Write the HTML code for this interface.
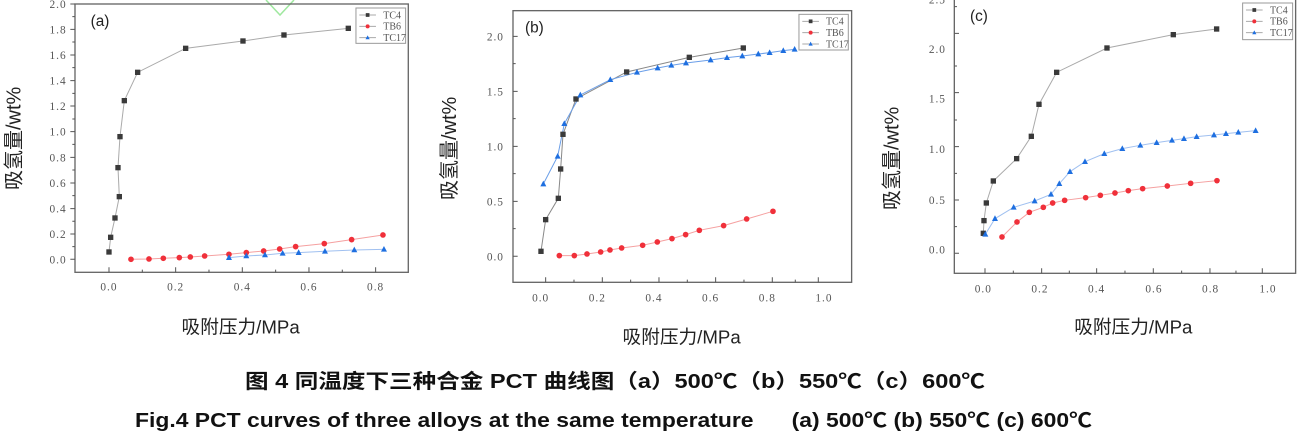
<!DOCTYPE html>
<html><head><meta charset="utf-8"><style>
html,body{margin:0;padding:0;background:#fff;width:1301px;height:444px;overflow:hidden}
.t{font-family:"Liberation Serif",serif;fill:#555;letter-spacing:3px}
.c{font-family:"Liberation Sans","Noto Sans CJK SC",sans-serif;fill:#222}
</style></head><body>
<svg width="1301" height="444" viewBox="0 0 1301 444" xmlns="http://www.w3.org/2000/svg">
<defs>
<rect id="sq" x="-8" y="-8" width="16" height="16" fill="#3a3a3a"/>
<circle id="ci" r="8.5" fill="#f0303a"/>
<path id="tr" d="M0,-10 L9,7 L-9,7 Z" fill="#1e6fe0"/>
</defs>
<path d="M266,0 L280,15 L294,0" fill="none" stroke="#9fe89f" stroke-width="1.5"/>

<!-- (a) -->
<g transform="scale(0.3333)">
<rect x="225" y="12" width="1000" height="805" fill="none" stroke="#666" stroke-width="4"/>
<g stroke="#555" stroke-width="3">
<path d="M225,778h-14M225,702h-14M225,626h-14M225,549h-14M225,472h-14M225,395h-14M225,318h-14M225,242h-14M225,165h-14M225,88h-14M225,12h-14"/>
<path d="M225,740h-8M225,664h-8M225,587h-8M225,510h-8M225,433h-8M225,357h-8M225,280h-8M225,203h-8M225,126h-8M225,50h-8"/>
<path d="M327,817v-15M527,817v-15M727,817v-15M927,817v-15M1127,817v-15M427,817v-8M627,817v-8M827,817v-8M1027,817v-8"/>
</g>
<g class="t" font-size="34" text-anchor="end">
<text x="200" y="790">0.0</text><text x="200" y="714">0.2</text><text x="200" y="638">0.4</text><text x="200" y="561">0.6</text><text x="200" y="484">0.8</text><text x="200" y="407">1.0</text><text x="200" y="330">1.2</text><text x="200" y="254">1.4</text><text x="200" y="177">1.6</text><text x="200" y="100">1.8</text><text x="200" y="24">2.0</text>
</g>
<g class="t" font-size="34" text-anchor="middle">
<text x="327" y="872">0.0</text><text x="527" y="872">0.2</text><text x="727" y="872">0.4</text><text x="927" y="872">0.6</text><text x="1127" y="872">0.8</text>
</g>
<polyline fill="none" stroke="#aaa" stroke-width="3" points="327,756 332,712 345,654 358,590 354,503 360,410 373,302 413,217 557,145 729,123 852,105 1045,85"/>
<polyline fill="none" stroke="#f5a0a0" stroke-width="3" points="393,778 447,777 490,775 538,773 571,771 614,768 687,763 739,758 791,753 839,747 887,740 973,731 1055,719 1149,705"/>
<polyline fill="none" stroke="#a0c0f0" stroke-width="3" points="687,773 739,768 795,765 848,760 896,758 975,754 1063,750 1152,748"/>
<g><use href="#sq" x="327" y="756"/><use href="#sq" x="332" y="712"/><use href="#sq" x="345" y="654"/><use href="#sq" x="358" y="590"/><use href="#sq" x="354" y="503"/><use href="#sq" x="360" y="410"/><use href="#sq" x="373" y="302"/><use href="#sq" x="413" y="217"/><use href="#sq" x="557" y="145"/><use href="#sq" x="729" y="123"/><use href="#sq" x="852" y="105"/><use href="#sq" x="1045" y="85"/></g>
<g><use href="#ci" x="393" y="778"/><use href="#ci" x="447" y="777"/><use href="#ci" x="490" y="775"/><use href="#ci" x="538" y="773"/><use href="#ci" x="571" y="771"/><use href="#ci" x="614" y="768"/><use href="#ci" x="687" y="763"/><use href="#ci" x="739" y="758"/><use href="#ci" x="791" y="753"/><use href="#ci" x="839" y="747"/><use href="#ci" x="887" y="740"/><use href="#ci" x="973" y="731"/><use href="#ci" x="1055" y="719"/><use href="#ci" x="1149" y="705"/></g>
<g><use href="#tr" x="687" y="773"/><use href="#tr" x="739" y="768"/><use href="#tr" x="795" y="765"/><use href="#tr" x="848" y="760"/><use href="#tr" x="896" y="758"/><use href="#tr" x="975" y="754"/><use href="#tr" x="1063" y="750"/><use href="#tr" x="1152" y="748"/></g>
<rect x="1068" y="24" width="149" height="106" fill="#fff" stroke="#999" stroke-width="3"/>
<path d="M1078,45h50M1078,79h50M1078,113h50" stroke-width="3" stroke="#aaa"/>
<use href="#sq" transform="translate(1103,45) scale(0.7)"/>
<use href="#ci" transform="translate(1103,79) scale(0.7)"/>
<use href="#tr" transform="translate(1103,113) scale(0.7)"/>
<g class="t" font-size="30" style="letter-spacing:0"><text x="1150" y="55">TC4</text><text x="1150" y="89">TB6</text><text x="1150" y="123">TC17</text></g>
<text x="272" y="78" class="c" font-size="46">(a)</text>
<text class="c" font-size="60" text-anchor="middle" transform="translate(62,415) rotate(-90)">吸氢量/wt%</text>
<text class="c" font-size="56" text-anchor="middle" x="722" y="1000">吸附压力/MPa</text>
</g>

<!-- (b) -->
<g transform="translate(430,0) scale(0.3333)">
<rect x="249" y="32" width="1016" height="815" fill="none" stroke="#666" stroke-width="4"/>
<g stroke="#555" stroke-width="3">
<path d="M249,769h14M249,604h14M249,439h14M249,274h14M249,109h14M249,686h8M249,521h8M249,356h8M249,191h8"/>
<path d="M347,847v-15M517,847v-15M687,847v-15M857,847v-15M1027,847v-15M1165,847v-15M432,847v-8M602,847v-8M772,847v-8M942,847v-8M1096,847v-8"/>
</g>
<g class="t" font-size="34" text-anchor="end">
<text x="222" y="781">0.0</text><text x="222" y="616">0.5</text><text x="222" y="451">1.0</text><text x="222" y="286">1.5</text><text x="222" y="121">2.0</text>
</g>
<g class="t" font-size="34" text-anchor="middle">
<text x="332" y="905">0.0</text><text x="502" y="905">0.2</text><text x="672" y="905">0.4</text><text x="842" y="905">0.6</text><text x="1012" y="905">0.8</text><text x="1182" y="905">1.0</text>
</g>
<polyline fill="none" stroke="#888" stroke-width="3" points="333,754 347,659 385,595 392,507 399,403 438,297 590,216 778,172 940,144"/>
<polyline fill="none" stroke="#f5a0a0" stroke-width="3" points="388,767 433,767 471,762 512,756 540,750 575,744 638,736 682,726 726,716 767,704 808,691 881,677 950,657 1029,634"/>
<polyline fill="none" stroke="#6a9ee8" stroke-width="3" points="340,552 383,469 403,371 451,285 541,239 621,217 683,204 724,196 768,189 842,180 891,173 937,168 985,162 1019,158 1060,152 1094,148"/>
<g><use href="#sq" x="333" y="754"/><use href="#sq" x="347" y="659"/><use href="#sq" x="385" y="595"/><use href="#sq" x="392" y="507"/><use href="#sq" x="399" y="403"/><use href="#sq" x="438" y="297"/><use href="#sq" x="590" y="216"/><use href="#sq" x="778" y="172"/><use href="#sq" x="940" y="144"/></g>
<g><use href="#ci" x="388" y="767"/><use href="#ci" x="433" y="767"/><use href="#ci" x="471" y="762"/><use href="#ci" x="512" y="756"/><use href="#ci" x="540" y="750"/><use href="#ci" x="575" y="744"/><use href="#ci" x="638" y="736"/><use href="#ci" x="682" y="726"/><use href="#ci" x="726" y="716"/><use href="#ci" x="767" y="704"/><use href="#ci" x="808" y="691"/><use href="#ci" x="881" y="677"/><use href="#ci" x="950" y="657"/><use href="#ci" x="1029" y="634"/></g>
<g><use href="#tr" x="340" y="552"/><use href="#tr" x="383" y="469"/><use href="#tr" x="403" y="371"/><use href="#tr" x="451" y="285"/><use href="#tr" x="541" y="239"/><use href="#tr" x="621" y="217"/><use href="#tr" x="683" y="204"/><use href="#tr" x="724" y="196"/><use href="#tr" x="768" y="189"/><use href="#tr" x="842" y="180"/><use href="#tr" x="891" y="173"/><use href="#tr" x="937" y="168"/><use href="#tr" x="985" y="162"/><use href="#tr" x="1019" y="158"/><use href="#tr" x="1060" y="152"/><use href="#tr" x="1094" y="148"/></g>
<rect x="1107" y="43" width="148" height="107" fill="#fff" stroke="#999" stroke-width="3"/>
<path d="M1117,64h50M1117,98h50M1117,132h50" stroke-width="3" stroke="#aaa"/>
<use href="#sq" transform="translate(1142,64) scale(0.7)"/>
<use href="#ci" transform="translate(1142,98) scale(0.7)"/>
<use href="#tr" transform="translate(1142,132) scale(0.7)"/>
<g class="t" font-size="30" style="letter-spacing:0"><text x="1188" y="74">TC4</text><text x="1188" y="108">TB6</text><text x="1188" y="142">TC17</text></g>
<text x="285" y="97" class="c" font-size="46">(b)</text>
<text class="c" font-size="60" text-anchor="middle" transform="translate(78,445) rotate(-90)">吸氢量/wt%</text>
<text class="c" font-size="56" text-anchor="middle" x="755" y="1030">吸附压力/MPa</text>
</g>

<!-- (c) -->
<g transform="translate(870,0) scale(0.3333)">
<rect x="253" y="-5" width="1024" height="825" fill="none" stroke="#666" stroke-width="4"/>
<g stroke="#555" stroke-width="3">
<path d="M253,760h14M253,600h14M253,440h14M253,278h14M253,100h14M253,680h8M253,520h8M253,360h8M253,198h8M253,20h8"/>
<path d="M345,820v-15M515,820v-15M680,820v-15M850,820v-15M1020,820v-15M1177,820v-15M430,820v-8M598,820v-8M765,820v-8M935,820v-8M1098,820v-8"/>
</g>
<g class="t" font-size="34" text-anchor="end">
<text x="228" y="760">0.0</text><text x="228" y="612">0.5</text><text x="228" y="459">1.0</text><text x="228" y="308">1.5</text><text x="228" y="159">2.0</text><text x="228" y="10">2.5</text>
</g>
<g class="t" font-size="34" text-anchor="middle">
<text x="340" y="878">0.0</text><text x="510" y="878">0.2</text><text x="680" y="878">0.4</text><text x="852" y="878">0.6</text><text x="1022" y="878">0.8</text><text x="1194" y="878">1.0</text>
</g>
<polyline fill="none" stroke="#aaa" stroke-width="3" points="340,700 342,662 349,609 370,543 440,476 484,409 507,313 560,217 711,144 910,104 1040,87"/>
<polyline fill="none" stroke="#f5a0a0" stroke-width="3" points="396,711 441,666 478,637 520,622 548,609 584,601 647,593 691,586 735,579 775,572 818,566 892,558 962,550 1041,542"/>
<polyline fill="none" stroke="#a0c0f0" stroke-width="3" points="346,703 375,656 431,622 494,603 543,583 568,551 600,515 645,485 703,461 757,446 811,436 860,428 906,421 942,416 980,410 1032,405 1068,401 1105,397 1157,392"/>
<g><use href="#sq" x="340" y="700"/><use href="#sq" x="342" y="662"/><use href="#sq" x="349" y="609"/><use href="#sq" x="370" y="543"/><use href="#sq" x="440" y="476"/><use href="#sq" x="484" y="409"/><use href="#sq" x="507" y="313"/><use href="#sq" x="560" y="217"/><use href="#sq" x="711" y="144"/><use href="#sq" x="910" y="104"/><use href="#sq" x="1040" y="87"/></g>
<g><use href="#ci" x="396" y="711"/><use href="#ci" x="441" y="666"/><use href="#ci" x="478" y="637"/><use href="#ci" x="520" y="622"/><use href="#ci" x="548" y="609"/><use href="#ci" x="584" y="601"/><use href="#ci" x="647" y="593"/><use href="#ci" x="691" y="586"/><use href="#ci" x="735" y="579"/><use href="#ci" x="775" y="572"/><use href="#ci" x="818" y="566"/><use href="#ci" x="892" y="558"/><use href="#ci" x="962" y="550"/><use href="#ci" x="1041" y="542"/></g>
<g><use href="#tr" x="346" y="703"/><use href="#tr" x="375" y="656"/><use href="#tr" x="431" y="622"/><use href="#tr" x="494" y="603"/><use href="#tr" x="543" y="583"/><use href="#tr" x="568" y="551"/><use href="#tr" x="600" y="515"/><use href="#tr" x="645" y="485"/><use href="#tr" x="703" y="461"/><use href="#tr" x="757" y="446"/><use href="#tr" x="811" y="436"/><use href="#tr" x="860" y="428"/><use href="#tr" x="906" y="421"/><use href="#tr" x="942" y="416"/><use href="#tr" x="980" y="410"/><use href="#tr" x="1032" y="405"/><use href="#tr" x="1068" y="401"/><use href="#tr" x="1105" y="397"/><use href="#tr" x="1157" y="392"/></g>
<rect x="1118" y="9" width="150" height="110" fill="#fff" stroke="#999" stroke-width="3"/>
<path d="M1128,30h50M1128,64h50M1128,98h50" stroke-width="3" stroke="#aaa"/>
<use href="#sq" transform="translate(1153,30) scale(0.7)"/>
<use href="#ci" transform="translate(1153,64) scale(0.7)"/>
<use href="#tr" transform="translate(1153,98) scale(0.7)"/>
<g class="t" font-size="30" style="letter-spacing:0"><text x="1200" y="40">TC4</text><text x="1200" y="74">TB6</text><text x="1200" y="108">TC17</text></g>
<text x="300" y="63" class="c" font-size="46">(c)</text>
<text class="c" font-size="60" text-anchor="middle" transform="translate(85,475) rotate(-90)">吸氢量/wt%</text>
<text class="c" font-size="56" text-anchor="middle" x="790" y="1000">吸附压力/MPa</text>
</g>

<text x="245" y="388" textLength="740" lengthAdjust="spacingAndGlyphs" font-family="Liberation Sans,Noto Sans CJK SC,sans-serif" font-weight="bold" font-size="20" fill="#111">图 4  同温度下三种合金 PCT 曲线图（a）500℃（b）550℃（c）600℃</text>
<text x="135" y="427" textLength="957" lengthAdjust="spacingAndGlyphs" font-family="Liberation Sans,Noto Sans CJK SC,sans-serif" font-weight="bold" font-size="20" fill="#111" xml:space="preserve">Fig.4 PCT curves of three alloys at the same temperature      (a) 500℃ (b) 550℃ (c) 600℃</text>
</svg>
</body></html>
